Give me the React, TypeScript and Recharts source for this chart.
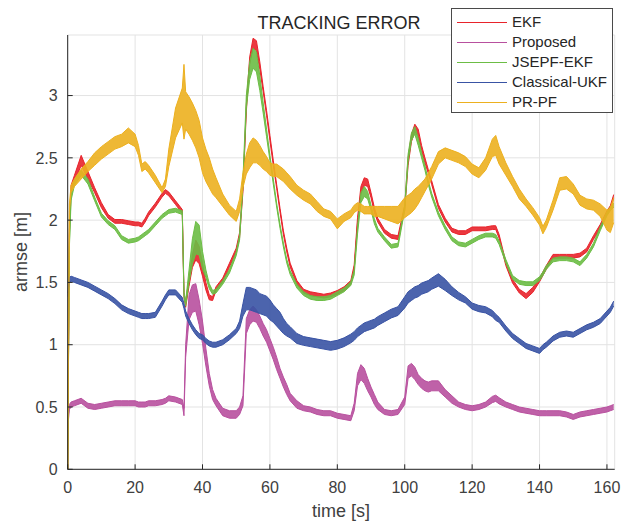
import { ComposedChart, Area, XAxis, YAxis, CartesianGrid } from "recharts";

// time grid [s], 8 samples per row
const TIME = [
  0, 0.5, 1, 2, 4, 6, 8, 10,
  12, 14, 16, 18, 20, 21, 22, 23,
  24, 26, 28, 29, 30, 32, 34, 34.5,
  35, 36, 37, 38, 39, 40, 41, 42,
  43, 44, 46, 48, 50, 51, 52, 53,
  54, 55, 56, 57, 58, 59, 60, 61,
  62, 63, 64, 65, 66, 68, 70, 72,
  74, 76, 78, 80, 82, 84, 85, 86,
  87, 88, 89, 90, 91, 92, 94, 96,
  98, 100, 101, 102, 103, 104, 105, 106,
  107, 108, 110, 112, 114, 116, 118, 120,
  122, 124, 126, 127, 128, 130, 132, 134,
  136, 138, 140, 141, 142, 144, 146, 148,
  150, 152, 154, 156, 158, 160, 161, 162,
];

// armse mean value per sample, and half-width of the noise band
const EKF = [
  0, 1.9, 2.25, 2.33, 2.48, 2.36, 2.24, 2.12,
  2.03, 1.99, 1.99, 1.98, 1.97, 1.97, 1.96, 2.0,
  2.05, 2.12, 2.2, 2.23, 2.21, 2.14, 2.07, 1.4,
  1.32, 1.5, 1.67, 1.76, 1.72, 1.6, 1.47, 1.38,
  1.37, 1.45, 1.52, 1.64, 1.76, 1.88, 2.25, 2.9,
  3.28, 3.42, 3.4, 3.24, 3.05, 2.86, 2.66, 2.46,
  2.27, 2.08, 1.9, 1.76, 1.64, 1.5, 1.43, 1.41,
  1.4, 1.39, 1.4, 1.42, 1.45, 1.5, 1.62, 2.0,
  2.24, 2.31, 2.3, 2.2, 2.08, 2.0, 1.91, 1.87,
  1.86, 2.1, 2.47, 2.66, 2.74, 2.7, 2.58, 2.48,
  2.39, 2.3, 2.11, 2.0, 1.92, 1.9, 1.9, 1.93,
  1.93, 1.93, 1.94, 1.94, 1.87, 1.65, 1.51, 1.43,
  1.39, 1.44, 1.52, 1.57, 1.62, 1.71, 1.71, 1.71,
  1.71, 1.72, 1.76, 1.86, 1.95, 2.06, 2.1, 2.19,
];
const EKF_NOISE = [
  0, 0.02, 0.03, 0.03, 0.04, 0.03, 0.02, 0.02,
  0.015, 0.015, 0.015, 0.015, 0.015, 0.015, 0.015, 0.015,
  0.015, 0.015, 0.015, 0.015, 0.015, 0.015, 0.015, 0.02,
  0.02, 0.03, 0.05, 0.08, 0.07, 0.05, 0.03, 0.02,
  0.015, 0.015, 0.015, 0.015, 0.015, 0.02, 0.02, 0.03,
  0.03, 0.04, 0.04, 0.03, 0.02, 0.02, 0.02, 0.02,
  0.015, 0.015, 0.015, 0.015, 0.015, 0.015, 0.015, 0.015,
  0.015, 0.015, 0.015, 0.015, 0.015, 0.015, 0.02, 0.02,
  0.03, 0.03, 0.03, 0.02, 0.02, 0.015, 0.015, 0.015,
  0.015, 0.02, 0.03, 0.03, 0.03, 0.03, 0.02, 0.02,
  0.015, 0.015, 0.015, 0.015, 0.015, 0.015, 0.015, 0.015,
  0.015, 0.015, 0.015, 0.015, 0.015, 0.015, 0.015, 0.015,
  0.02, 0.02, 0.015, 0.015, 0.015, 0.015, 0.015, 0.015,
  0.015, 0.015, 0.015, 0.015, 0.015, 0.015, 0.015, 0.015,
];

const PROPOSED = [
  0.35, 0.5, 0.52, 0.53, 0.55, 0.51, 0.5, 0.51,
  0.52, 0.53, 0.53, 0.53, 0.53, 0.52, 0.52, 0.52,
  0.53, 0.53, 0.54, 0.55, 0.57, 0.56, 0.54, 0.46,
  0.95, 1.3, 1.37, 1.38, 1.26, 1.1, 0.9, 0.72,
  0.6, 0.54, 0.46, 0.44, 0.44, 0.47, 0.55, 1.15,
  1.22, 1.25, 1.23, 1.18, 1.12, 1.07, 1.0, 0.93,
  0.85, 0.77, 0.7, 0.64, 0.58, 0.52, 0.49, 0.48,
  0.46, 0.45, 0.45, 0.43, 0.42, 0.41, 0.5, 0.72,
  0.78, 0.75, 0.68, 0.62, 0.56, 0.51, 0.46, 0.45,
  0.46, 0.55, 0.78, 0.8, 0.77, 0.72, 0.69, 0.67,
  0.66, 0.67, 0.67, 0.61, 0.56, 0.52, 0.5, 0.49,
  0.5, 0.52, 0.56, 0.57, 0.55, 0.52, 0.5, 0.48,
  0.47, 0.46, 0.45, 0.45, 0.45, 0.45, 0.45, 0.44,
  0.42, 0.44, 0.45, 0.46, 0.47, 0.48, 0.49, 0.5,
];
const PROPOSED_NOISE = [
  0.02, 0.02, 0.02, 0.02, 0.02, 0.02, 0.02, 0.02,
  0.02, 0.02, 0.02, 0.02, 0.02, 0.02, 0.02, 0.02,
  0.02, 0.02, 0.02, 0.02, 0.02, 0.02, 0.02, 0.03,
  0.05, 0.1, 0.11, 0.11, 0.1, 0.09, 0.07, 0.05,
  0.04, 0.03, 0.03, 0.03, 0.03, 0.03, 0.04, 0.06,
  0.06, 0.06, 0.05, 0.05, 0.05, 0.05, 0.05, 0.05,
  0.05, 0.04, 0.04, 0.04, 0.03, 0.03, 0.02, 0.02,
  0.02, 0.02, 0.02, 0.02, 0.02, 0.02, 0.03, 0.05,
  0.06, 0.06, 0.05, 0.04, 0.04, 0.03, 0.02, 0.02,
  0.02, 0.03, 0.05, 0.05, 0.05, 0.04, 0.04, 0.04,
  0.04, 0.04, 0.04, 0.03, 0.03, 0.02, 0.02, 0.02,
  0.02, 0.02, 0.025, 0.025, 0.025, 0.02, 0.02, 0.02,
  0.02, 0.02, 0.02, 0.02, 0.02, 0.02, 0.02, 0.02,
  0.02, 0.02, 0.02, 0.02, 0.02, 0.02, 0.02, 0.02,
];

const JSEPF = [
  0, 1.8, 2.18, 2.3, 2.38, 2.31, 2.17, 2.04,
  1.98, 1.94, 1.86, 1.83, 1.84, 1.85, 1.87, 1.89,
  1.91, 1.97, 2.03, 2.05, 2.07, 2.08, 2.06, 1.4,
  1.33, 1.55, 1.75, 1.86, 1.84, 1.68, 1.57, 1.47,
  1.42, 1.43, 1.5, 1.59, 1.73, 1.86, 2.3, 2.95,
  3.2, 3.3, 3.27, 3.1, 2.9, 2.7, 2.5, 2.31,
  2.12, 1.95, 1.8, 1.67, 1.58, 1.47, 1.41, 1.38,
  1.37, 1.37, 1.38, 1.41, 1.44, 1.49, 1.58, 1.92,
  2.18, 2.23, 2.2, 2.1, 1.99, 1.92, 1.85, 1.79,
  1.8, 2.1, 2.5, 2.67, 2.72, 2.63, 2.52, 2.42,
  2.3, 2.2, 2.05, 1.94, 1.85, 1.81, 1.8, 1.83,
  1.86, 1.88, 1.88, 1.87, 1.82, 1.67, 1.54, 1.5,
  1.49, 1.49, 1.53, 1.57, 1.62, 1.68, 1.69, 1.69,
  1.68, 1.65, 1.71, 1.8, 1.93, 2.05, 2.09, 2.12,
];
const JSEPF_NOISE = [
  0, 0.02, 0.02, 0.02, 0.02, 0.02, 0.015, 0.015,
  0.015, 0.015, 0.015, 0.015, 0.015, 0.015, 0.015, 0.015,
  0.015, 0.015, 0.015, 0.015, 0.015, 0.015, 0.015, 0.02,
  0.02, 0.05, 0.1, 0.13, 0.12, 0.07, 0.03, 0.02,
  0.015, 0.015, 0.015, 0.015, 0.015, 0.02, 0.03, 0.05,
  0.07, 0.08, 0.08, 0.06, 0.04, 0.03, 0.02, 0.02,
  0.015, 0.015, 0.015, 0.015, 0.015, 0.015, 0.015, 0.015,
  0.015, 0.015, 0.015, 0.015, 0.015, 0.015, 0.02, 0.03,
  0.04, 0.04, 0.03, 0.02, 0.02, 0.015, 0.015, 0.015,
  0.015, 0.02, 0.03, 0.03, 0.03, 0.03, 0.02, 0.02,
  0.015, 0.015, 0.015, 0.015, 0.015, 0.015, 0.015, 0.015,
  0.015, 0.015, 0.015, 0.015, 0.015, 0.015, 0.015, 0.015,
  0.015, 0.015, 0.015, 0.015, 0.015, 0.015, 0.015, 0.015,
  0.015, 0.015, 0.015, 0.015, 0.015, 0.015, 0.015, 0.015,
];

const UKF = [
  1.4, 1.52, 1.53, 1.52, 1.5, 1.48, 1.45, 1.42,
  1.39, 1.35, 1.3, 1.27, 1.25, 1.24, 1.23, 1.23,
  1.23, 1.24, 1.33, 1.38, 1.42, 1.42, 1.36, 1.31,
  1.25, 1.19, 1.14, 1.1, 1.07, 1.06, 1.03, 1.01,
  1.0, 1.0, 1.02, 1.06, 1.11, 1.16, 1.28, 1.37,
  1.37, 1.36, 1.35, 1.33, 1.32, 1.31, 1.28, 1.25,
  1.22, 1.19, 1.15, 1.12, 1.1, 1.05, 1.03, 1.02,
  1.01, 1.0, 0.99, 1.0, 1.02, 1.05, 1.07, 1.1,
  1.12, 1.14, 1.15, 1.16, 1.17, 1.19, 1.22, 1.25,
  1.27, 1.34, 1.38, 1.4, 1.42, 1.43, 1.45, 1.46,
  1.47, 1.49, 1.52, 1.48, 1.43, 1.39, 1.36, 1.31,
  1.29, 1.28, 1.25, 1.22, 1.2, 1.13, 1.07, 1.03,
  0.99, 0.97, 0.95, 0.98, 1.0, 1.05, 1.08, 1.09,
  1.08, 1.11, 1.14, 1.16, 1.19, 1.25, 1.28, 1.33,
];
const UKF_NOISE = [
  0.015, 0.02, 0.02, 0.02, 0.02, 0.02, 0.02, 0.02,
  0.02, 0.02, 0.02, 0.02, 0.02, 0.02, 0.02, 0.02,
  0.02, 0.02, 0.02, 0.02, 0.02, 0.02, 0.02, 0.02,
  0.02, 0.02, 0.02, 0.02, 0.02, 0.02, 0.02, 0.02,
  0.02, 0.02, 0.02, 0.02, 0.02, 0.03, 0.05, 0.09,
  0.09, 0.09, 0.09, 0.08, 0.08, 0.08, 0.08, 0.07,
  0.07, 0.07, 0.06, 0.05, 0.045, 0.04, 0.035, 0.035,
  0.035, 0.035, 0.035, 0.035, 0.035, 0.035, 0.035, 0.035,
  0.035, 0.035, 0.035, 0.035, 0.035, 0.035, 0.035, 0.035,
  0.035, 0.045, 0.045, 0.045, 0.045, 0.045, 0.045, 0.045,
  0.045, 0.045, 0.05, 0.045, 0.035, 0.03, 0.025, 0.025,
  0.025, 0.025, 0.025, 0.025, 0.02, 0.02, 0.02, 0.02,
  0.02, 0.02, 0.02, 0.02, 0.02, 0.02, 0.02, 0.02,
  0.02, 0.02, 0.02, 0.02, 0.02, 0.02, 0.02, 0.02,
];

const PRPF = [
  0, 2.1, 2.25, 2.3, 2.37, 2.43, 2.49, 2.54,
  2.58, 2.62, 2.64, 2.68, 2.64, 2.56, 2.42, 2.44,
  2.41, 2.33, 2.24, 2.3, 2.5, 2.78, 2.92, 2.95,
  2.88, 2.84, 2.79, 2.73, 2.65, 2.52, 2.44, 2.38,
  2.31, 2.26, 2.16, 2.08, 2.03, 2.12, 2.32, 2.45,
  2.52, 2.56, 2.55, 2.52, 2.48, 2.45, 2.41, 2.4,
  2.4, 2.38, 2.36, 2.33, 2.3, 2.24, 2.2, 2.17,
  2.11, 2.06, 2.04, 1.97, 2.02, 2.05, 2.09, 2.11,
  2.1, 2.08, 2.08, 2.08, 2.07, 2.07, 2.06, 2.05,
  2.04, 2.1, 2.12, 2.14, 2.17, 2.2, 2.24, 2.28,
  2.33, 2.38, 2.5, 2.54, 2.52, 2.5, 2.47, 2.41,
  2.38, 2.45, 2.58, 2.6, 2.52, 2.41, 2.31, 2.21,
  2.14, 2.07, 1.99, 1.92, 1.97, 2.12, 2.29, 2.3,
  2.25, 2.16, 2.13, 2.12, 2.08, 2.0, 2.0, 2.08,
];
const PRPF_NOISE = [
  0, 0.03, 0.03, 0.03, 0.04, 0.04, 0.05, 0.05,
  0.05, 0.05, 0.05, 0.06, 0.05, 0.04, 0.03, 0.03,
  0.03, 0.03, 0.02, 0.03, 0.07, 0.12, 0.14, 0.3,
  0.15, 0.15, 0.15, 0.15, 0.15, 0.14, 0.13, 0.12,
  0.1, 0.08, 0.05, 0.04, 0.04, 0.05, 0.06, 0.08,
  0.1, 0.1, 0.09, 0.08, 0.07, 0.06, 0.05, 0.05,
  0.05, 0.05, 0.05, 0.05, 0.05, 0.04, 0.04, 0.04,
  0.04, 0.03, 0.03, 0.04, 0.03, 0.03, 0.03, 0.03,
  0.03, 0.03, 0.03, 0.03, 0.04, 0.04, 0.05, 0.06,
  0.07, 0.08, 0.08, 0.08, 0.08, 0.07, 0.06, 0.05,
  0.05, 0.05, 0.05, 0.04, 0.04, 0.04, 0.04, 0.04,
  0.04, 0.05, 0.07, 0.08, 0.07, 0.05, 0.04, 0.04,
  0.03, 0.03, 0.03, 0.03, 0.03, 0.04, 0.05, 0.05,
  0.04, 0.04, 0.04, 0.04, 0.05, 0.08, 0.1, 0.1,
];

const X_TICKS = [0, 20, 40, 60, 80, 100, 120, 140, 160];
const Y_TICKS = [0, 0.5, 1, 1.5, 2, 2.5, 3];

// legend order = plotting order
const SERIES = [
  { key: "ekf", name: "EKF", color: "#e8232b", mid: EKF, noise: EKF_NOISE },
  { key: "proposed", name: "Proposed", color: "#b8509e", mid: PROPOSED, noise: PROPOSED_NOISE },
  { key: "jsepf", name: "JSEPF-EKF", color: "#6cbd45", mid: JSEPF, noise: JSEPF_NOISE },
  { key: "ukf", name: "Classical-UKF", color: "#3953a4", mid: UKF, noise: UKF_NOISE },
  { key: "prpf", name: "PR-PF", color: "#ecb01f", mid: PRPF, noise: PRPF_NOISE },
];

const data = TIME.map((t, i) => {
  const row: Record<string, number | number[]> = { t };
  SERIES.forEach((s) => {
    row[s.key] = [Math.max(0, s.mid[i] - s.noise[i]), s.mid[i] + s.noise[i]];
  });
  return row;
});

const FONT = "'Liberation Sans', Arial, Helvetica, sans-serif";
const AXIS = "#262626";
const LABEL = "#404040";

function XTick({ x, y, payload }: any) {
  return (
    <g>
      <line x1={x} x2={x} y1={y} y2={y - 5} stroke={AXIS} />
      <text x={x} y={y + 24} textAnchor="middle" fontSize={16} fill={LABEL} fontFamily={FONT}>
        {payload.value}
      </text>
    </g>
  );
}

function YTick({ x, y, payload }: any) {
  return (
    <g>
      <line x1={x} x2={x + 5} y1={y} y2={y} stroke={AXIS} />
      <text x={x - 10} y={y + 5.7} textAnchor="end" fontSize={16} fill={LABEL} fontFamily={FONT}>
        {payload.value}
      </text>
    </g>
  );
}

export default function App() {
  return (
    <div style={{ position: "absolute", left: 0, top: 0, width: 621, height: 524, background: "#fff", fontFamily: FONT }}>
      <ComposedChart width={621} height={524} data={data}
        margin={{ top: 35, right: 6.3, bottom: 24.7, left: 0 }}>
        <CartesianGrid stroke="#e3e3e3" />
        <XAxis dataKey="t" type="number" domain={[0, 162.3]} ticks={X_TICKS} allowDataOverflow
          height={30} tickSize={0} tickMargin={0} tick={<XTick />} axisLine={{ stroke: AXIS }} />
        <YAxis type="number" domain={[0, 3.486]} ticks={Y_TICKS} allowDataOverflow
          width={67.7} tickSize={0} tickMargin={0} tick={<YTick />} axisLine={{ stroke: AXIS }} />
        {SERIES.map((s) => (
          <Area key={s.key} type="linear" dataKey={s.key} name={s.name}
            stroke={s.color} strokeWidth={1} fill={s.color} fillOpacity={0.9}
            dot={false} activeDot={false} isAnimationActive={false} />
        ))}
      </ComposedChart>

      <div style={{ position: "absolute", left: 239, top: 13.8, width: 200, textAlign: "center",
        fontSize: 18, lineHeight: "18px", color: "#262626", whiteSpace: "nowrap" }}>
        TRACKING ERROR
      </div>

      <div style={{ position: "absolute", left: 241, top: 501.8, width: 200, textAlign: "center",
        fontSize: 18, lineHeight: "18px", color: LABEL }}>
        time [s]
      </div>

      <div style={{ position: "absolute", left: 21 - 60, top: 252 - 9, width: 120, height: 18, textAlign: "center",
        fontSize: 18, lineHeight: "18px", color: LABEL, transform: "rotate(-90deg)" }}>
        armse [m]
      </div>

      <div style={{ position: "absolute", left: 451, top: 8, width: 160, height: 103,
        background: "#fff", border: "1px solid #4a4a4a" }}>
        {SERIES.map((s, i) => (
          <div key={s.key} style={{ position: "absolute", left: 0, top: 3 + i * 20, height: 20, width: 160 }}>
            <div style={{ position: "absolute", left: 5, top: 10, width: 50, height: 1, background: s.color }} />
            <div style={{ position: "absolute", left: 60, top: 0, fontSize: 15, lineHeight: "20px", color: "#262626" }}>
              {s.name}
            </div>
          </div>
        ))}
      </div>
    </div>
  );
}
